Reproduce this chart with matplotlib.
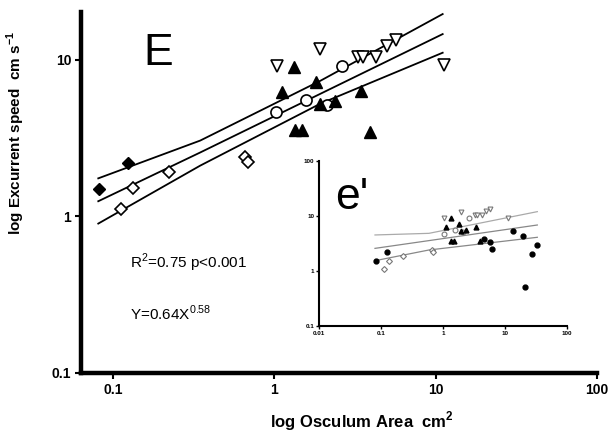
import matplotlib
matplotlib.use("Agg")
import matplotlib.pyplot as plt

plt.rcParams["font.family"] = ["Liberation Sans", "DejaVu Sans"]
plt.rcParams["mathtext.fontset"] = "custom"
plt.rcParams["mathtext.rm"] = "Liberation Sans"
plt.rcParams["mathtext.bf"] = "Liberation Sans:bold"

# main panel data (cm2, cm/s)
fdiam_x = [0.082, 0.124]
fdiam_y = [1.49, 2.18]
odiam_x = [0.112, 0.133, 0.223, 0.66, 0.69]
odiam_y = [1.11, 1.51, 1.91, 2.41, 2.24]
ocirc_x = [1.03, 1.58, 2.12, 2.63]
ocirc_y = [4.62, 5.53, 5.14, 9.16]
ftri_x = [1.12, 1.33, 1.80, 1.93, 2.39, 3.42, 1.35, 1.48, 3.89]
ftri_y = [6.2, 9.02, 7.17, 5.23, 5.48, 6.33, 3.57, 3.57, 3.48]
dtri_x = [1.04, 1.93, 3.31, 3.56, 4.24, 5.01, 5.65, 11.3]
dtri_y = [9.16, 11.7, 10.4, 10.4, 10.4, 12.3, 13.3, 9.29]

# regression line and band, read at a few x positions
fit_x = [0.081, 0.347, 1.93, 11.05]
fit_up = [1.75, 3.05, 7.35, 19.6]
fit_mid = [1.25, 2.56, 6.07, 14.6]
fit_lo = [0.90, 2.11, 5.25, 11.1]

# inset: extra filled circles
fcirc_x = [4.58, 5.66, 6.1, 13.4, 19.5, 32.4, 27.3, 21.0]
fcirc_y = [3.82, 3.41, 2.48, 5.41, 4.38, 2.97, 2.07, 0.52]

ins_x = [0.080, 0.594, 33.2]
ins_up = [4.52, 4.84, 12.0]
ins_mid = [2.58, 3.57, 6.86]
ins_lo = [1.54, 2.41, 4.1]

main_ticks = [0.1, 1, 10, 100]

fig = plt.figure(figsize=(6.1, 4.32), dpi=100)
ax = fig.add_axes([81 / 610, 1 - 373 / 432, 516 / 610, 361 / 432])
ax.set_xscale("log")
ax.set_yscale("log")
ax.set_xlim(0.0633, 100)
ax.set_ylim(0.1, 20.2)

for yy in (fit_up, fit_mid, fit_lo):
    ax.plot(fit_x, yy, color="black", lw=1.3, zorder=2)

ms = 8
ax.plot(fdiam_x, fdiam_y, "D", ms=ms - 1.5, mfc="black", mec="black", ls="none", zorder=3)
ax.plot(odiam_x, odiam_y, "D", ms=ms - 1.5, mfc="white", mec="black", mew=1.2, ls="none", zorder=3)
ax.plot(ocirc_x, ocirc_y, "o", ms=ms, mfc="white", mec="black", mew=1.2, ls="none", zorder=3)
ax.plot(ftri_x, ftri_y, "^", ms=ms, mfc="black", mec="black", ls="none", zorder=3)
ax.plot(dtri_x, dtri_y, "v", ms=ms, mfc="white", mec="black", mew=1.2, ls="none", zorder=3)

for s in ("top", "right"):
    ax.spines[s].set_visible(False)
for s in ("left", "bottom"):
    ax.spines[s].set_linewidth(3.2)

ax.set_xticks(main_ticks)
ax.set_xticklabels(["0.1", "1", "10", "100"])
ax.set_yticks([0.1, 1, 10])
ax.set_yticklabels(["0.1", "1", "10"])
ax.minorticks_off()
ax.tick_params(length=4, width=1.5, labelsize=10, pad=3)
for lab in ax.get_xticklabels() + ax.get_yticklabels():
    lab.set_fontweight("bold")

ax.set_ylabel(r"log Excurrent speed  cm s$^{\mathbf{-1}}$", fontsize=11, fontweight="bold")
ax.yaxis.set_label_coords(-0.105, 0.665)
ax.set_xlabel(r"log Osculum Area  cm$^{\mathbf{2}}$", fontsize=12, fontweight="bold")
ax.xaxis.set_label_coords(0.545, -0.102)

ax.text(0.149, 0.886, "E", transform=ax.transAxes, fontsize=32, ha="center", va="center")
ax.text(0.095, 0.291, r"R$^2$=0.75 p<0.001", transform=ax.transAxes, fontsize=11)
ax.text(0.095, 0.147, r"Y=0.64X$^{0.58}$", transform=ax.transAxes, fontsize=11)

# inset e'
ax2 = fig.add_axes([319 / 610, 1 - 326 / 432, 248 / 610, 165 / 432])
ax2.set_xscale("log")
ax2.set_yscale("log")
ax2.set_xlim(0.01, 100)
ax2.set_ylim(0.1, 100)

ax2.plot(ins_x, ins_up, color="#aaaaaa", lw=0.9)
ax2.plot(ins_x, ins_mid, color="#888888", lw=0.9)
ax2.plot(ins_x, ins_lo, color="#888888", lw=0.9)

ims = 3.5
ax2.plot(fdiam_x, fdiam_y, "o", ms=ims, mfc="black", mec="black", ls="none")
ax2.plot(odiam_x, odiam_y, "D", ms=ims - 0.5, mfc="white", mec="#777777", mew=0.8, ls="none")
ax2.plot(ocirc_x, ocirc_y, "o", ms=ims, mfc="white", mec="#777777", mew=0.8, ls="none")
ax2.plot(ftri_x, ftri_y, "^", ms=ims, mfc="black", mec="black", ls="none")
ax2.plot(dtri_x, dtri_y, "v", ms=ims, mfc="white", mec="#777777", mew=0.8, ls="none")
ax2.plot(fcirc_x, fcirc_y, "o", ms=ims, mfc="black", mec="black", ls="none")

for s in ("top", "right"):
    ax2.spines[s].set_visible(False)
for s in ("left", "bottom"):
    ax2.spines[s].set_linewidth(1.5)
ax2.set_xticks([0.01, 0.1, 1, 10, 100])
ax2.set_xticklabels(["0.01", "0.1", "1", "10", "100"])
ax2.set_yticks([0.1, 1, 10, 100])
ax2.set_yticklabels(["0.1", "1", "10", "100"])
ax2.minorticks_off()
ax2.tick_params(length=2, width=1, labelsize=4.5, pad=1.5)
for lab in ax2.get_xticklabels() + ax2.get_yticklabels():
    lab.set_fontweight("bold")

ax2.text(0.133, 0.776, "e'", transform=ax2.transAxes, fontsize=32, ha="center", va="center")

fig.savefig("out.png", dpi=100)
